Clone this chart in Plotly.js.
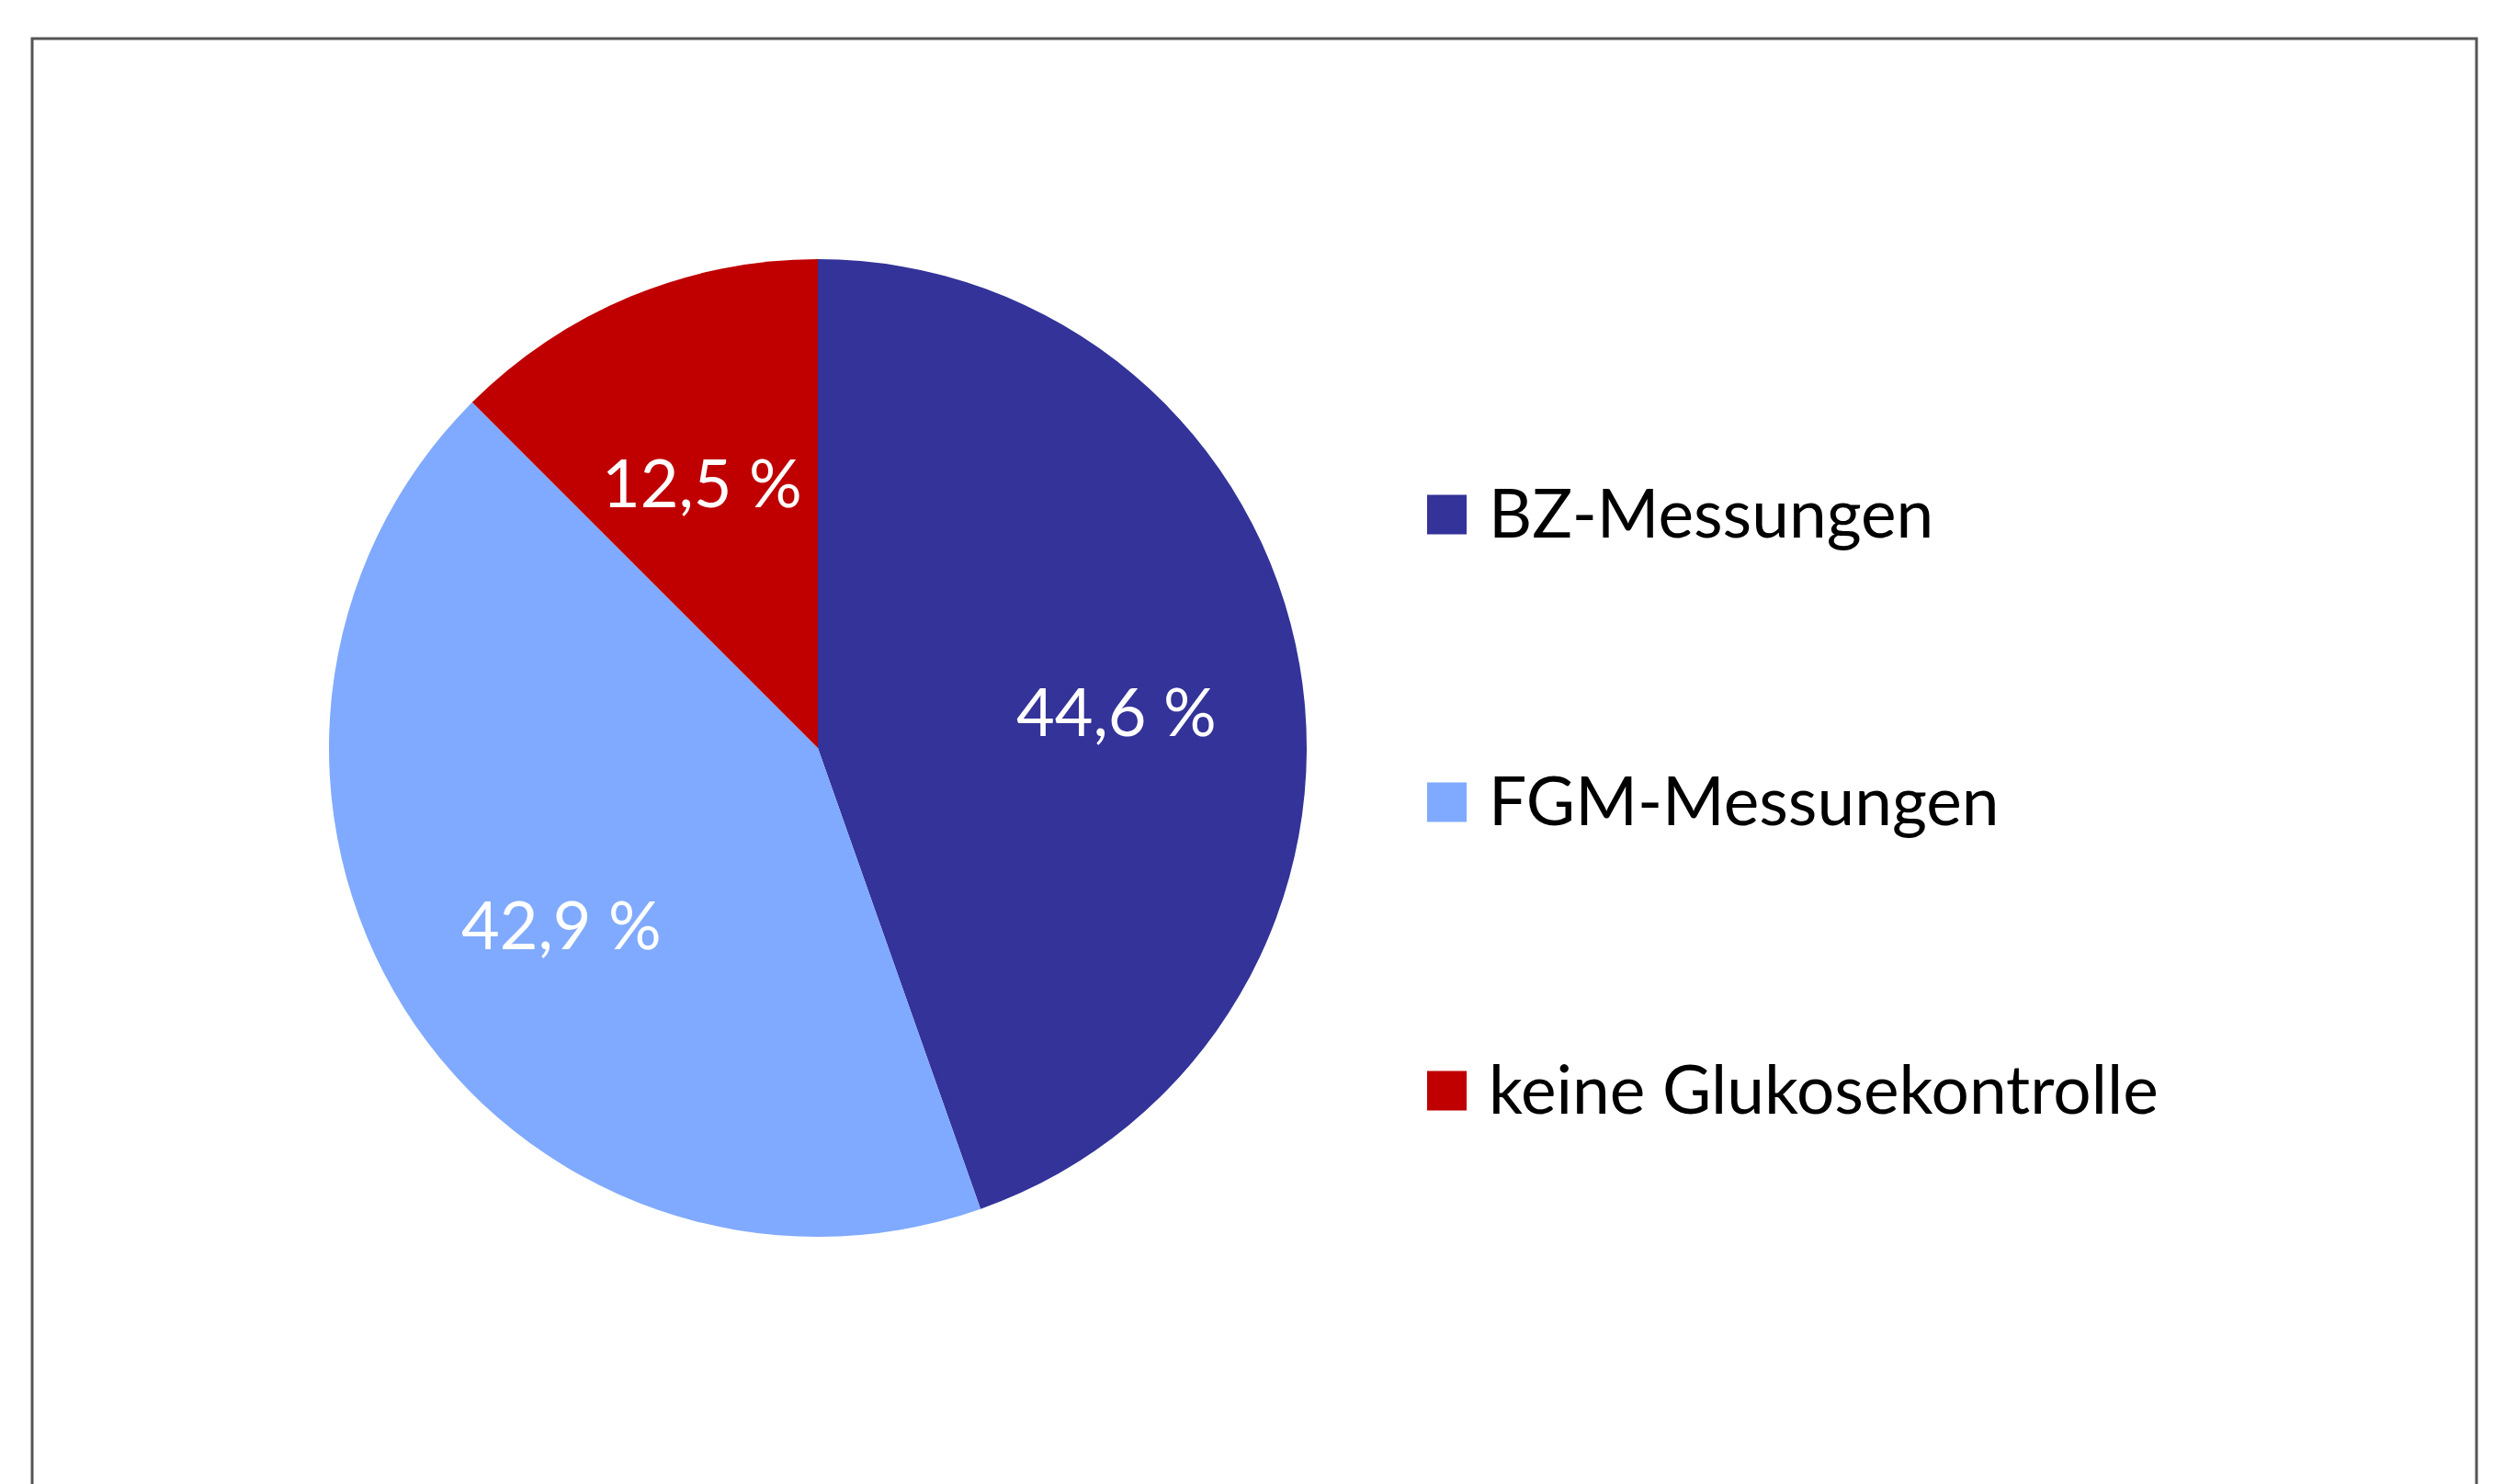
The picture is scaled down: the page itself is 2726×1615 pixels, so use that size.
<!DOCTYPE html>
<html>
<head>
<meta charset="utf-8">
<script src="https://cdn.plot.ly/plotly-3.0.1.min.js"></script>
<style>
  html, body { margin: 0; padding: 0; background: #ffffff; }
  #chart { width: 2726px; height: 1615px; }
</style>
</head>
<body>
<div id="chart"></div>
<script>
// ---- data ----
const categories = ["BZ-Messungen", "FGM-Messungen", "keine Glukosekontrolle"];
const shares = [44.6, 42.9, 12.5];
const sliceColors = ["#333399", "#80AAFF", "#C00000"];

// ---- layout helpers (pixel -> paper) ----
const W = 2726, H = 1615;
const px = v => v / W;
const py = v => 1 - v / H;

const FONT = "Lato, 'Open Sans', sans-serif";

// pie geometry
const cx = 890, cy = 814, r = 532;

const trace = {
  type: "pie",
  labels: categories,
  values: shares,
  sort: false,
  direction: "clockwise",
  rotation: 0,
  marker: { colors: sliceColors, line: { width: 0 } },
  textinfo: "none",
  hoverinfo: "none",
  showlegend: false,
  domain: { x: [px(cx - r), px(cx + r)], y: [py(cy + r), py(cy - r)] }
};

const shapes = [
  { type: "rect", xref: "paper", yref: "paper",
    x0: px(35), x1: px(2695), y0: -0.05, y1: py(42),
    line: { color: "#555555", width: 3 }, fillcolor: "rgba(0,0,0,0)" }
];
const annotations = [];

// data labels: placed at each slice's mid-angle (derived from the shares)
const total = shares.reduce((a, b) => a + b, 0);
let acc = 0;
shares.forEach((v, i) => {
  const mid = (acc + v / 2) / total * 2 * Math.PI; // clockwise from 12 o'clock
  acc += v;
  const lx = cx + 0.62 * r * Math.sin(mid);
  const ly = cy - 0.62 * r * Math.cos(mid) + 15;
  annotations.push({ xref: "paper", yref: "paper", x: px(lx), y: py(ly),
    xanchor: "center", yanchor: "middle", showarrow: false,
    text: v.toFixed(1).replace(".", ",") + " %",
    font: { family: FONT, size: 72, color: "#ffffff" } });
});

// legend built from data arrays
const legendRowY = [560, 873, 1187];
const sq = 43, sqX = 1553, textX = 1618;
categories.forEach((c, i) => {
  const yc = legendRowY[i];
  shapes.push({ type: "rect", xref: "paper", yref: "paper",
    x0: px(sqX), x1: px(sqX + sq), y0: py(yc + sq / 2), y1: py(yc - sq / 2),
    line: { width: 0 }, fillcolor: sliceColors[i] });
  annotations.push({ xref: "paper", yref: "paper", x: px(textX), y: py(yc - 3),
    xanchor: "left", yanchor: "middle", showarrow: false, text: c,
    font: { family: FONT, size: 73, color: "#000000" } });
});

const layout = {
  width: W, height: H,
  margin: { l: 0, r: 0, t: 0, b: 0 },
  paper_bgcolor: "#ffffff",
  showlegend: false,
  shapes: shapes,
  annotations: annotations
};

Plotly.newPlot("chart", [trace], layout, { displayModeBar: false, staticPlot: true });
</script>
</body>
</html>
